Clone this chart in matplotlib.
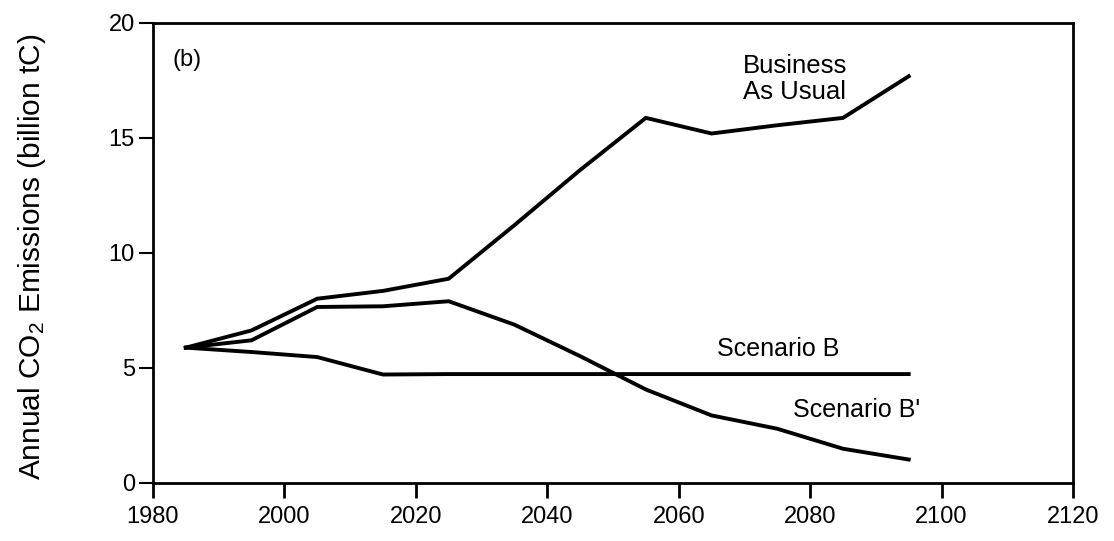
import matplotlib
matplotlib.use("Agg")
import matplotlib.pyplot as plt

plt.rcParams['font.family'] = ['Liberation Sans', 'DejaVu Sans']
plt.rcParams['mathtext.default'] = 'regular'

years = [1985, 1995, 2005, 2015, 2025, 2035, 2045, 2055, 2065, 2075, 2085, 2095]
business_as_usual = [5.87, 6.62, 8.0, 8.34, 8.87, 11.2, 13.6, 15.87, 15.19, 15.55, 15.87, 17.68]
scenario_b_prime = [5.87, 6.19, 7.64, 7.67, 7.89, 6.87, 5.5, 4.05, 2.92, 2.34, 1.47, 1.0]
scenario_b = [5.87, 5.68, 5.46, 4.7, 4.72, 4.72, 4.72, 4.72, 4.72, 4.72, 4.72, 4.72]

x_ticks = [1980, 2000, 2020, 2040, 2060, 2080, 2100, 2120]
y_ticks = [0, 5, 10, 15, 20]

fig = plt.figure(figsize=(11.14, 5.41), dpi=100)
ax = fig.add_axes([0.1373, 0.1081, 0.9632 - 0.1373, 0.9575 - 0.1081])

for series in (business_as_usual, scenario_b_prime, scenario_b):
    ax.plot(years, series, color='black', lw=2.8, solid_joinstyle='miter')

ax.set_xlim(1980, 2120)
ax.set_ylim(0, 20)
ax.set_xticks(x_ticks)
ax.set_yticks(y_ticks)
ax.tick_params(axis='x', direction='out', length=11, width=2, labelsize=17, pad=6)
ax.tick_params(axis='y', direction='out', length=10, width=1.5, labelsize=17, pad=3)
for s in ax.spines.values():
    s.set_linewidth(2)

ax.set_ylabel('Annual CO$_2$ Emissions (billion tC)', fontsize=21.5)
ax.yaxis.set_label_coords(-0.1315, 0.49)
ax.yaxis.label.set_va('center')

ax.text(1983, 18.4, '(b)', fontsize=17, va='center', ha='left')
ax.text(2069.8, 17.55, 'Business\nAs Usual', fontsize=18.5, va='center', ha='left', linespacing=1.1)
ax.text(2065.8, 5.82, 'Scenario B', fontsize=18, va='center', ha='left')
ax.text(2077.4, 3.16, "Scenario B'", fontsize=18, va='center', ha='left')

fig.savefig('out.png', dpi=100)
